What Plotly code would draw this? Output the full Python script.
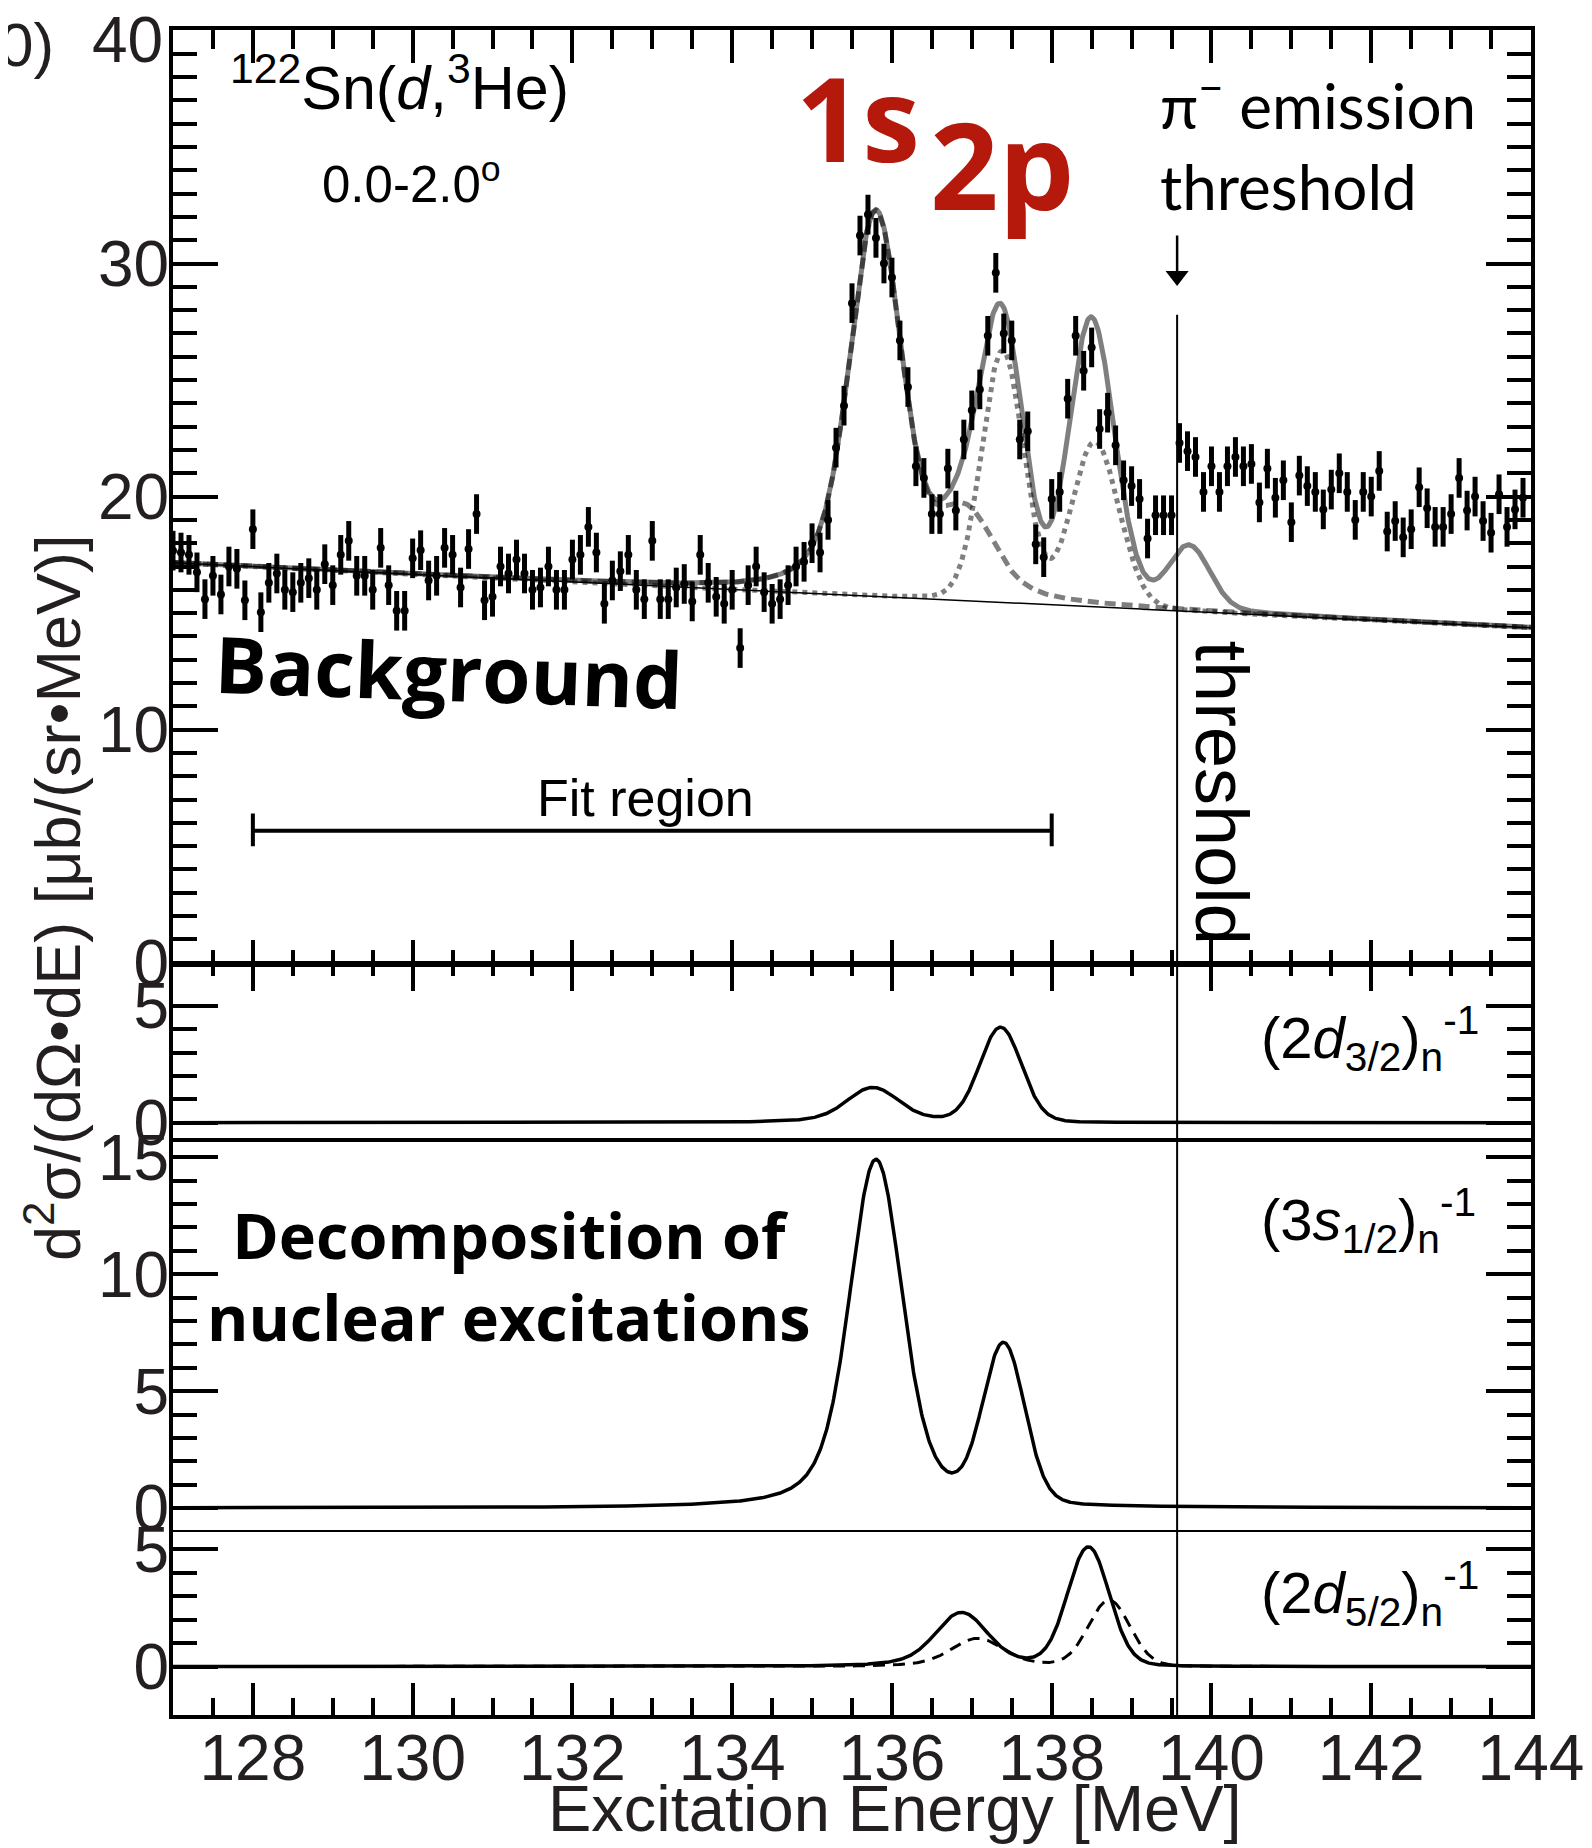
import numpy as np
import plotly.graph_objects as go

# ---------------- data ----------------
energy_start = 127.0          # MeV, first bin
bin_width = 0.1               # MeV
counts = [
    17.68, 17.6, 17.5, 16.75, 15.6, 16.6, 15.8, 17.0, 16.9, 15.55,
    18.6, 15.04, 16.3, 16.7, 16.0, 15.9, 16.3, 16.5, 16.0, 17.1,
    16.2, 17.5, 18.1, 16.6, 16.6, 16.0, 17.8, 16.2, 15.1, 15.1,
    17.35, 17.7, 16.4, 16.6, 17.8, 17.5, 16.1, 17.75, 19.25, 15.55,
    15.7, 17.0, 16.7, 17.3, 16.7, 16.0, 16.1, 17.0, 16.0, 16.0,
    17.3, 17.5, 18.7, 17.6, 15.4, 16.4, 16.8, 17.5, 16.0, 15.6,
    18.1, 15.6, 15.6, 16.1, 16.25, 15.5, 17.5, 16.3, 15.7, 15.4,
    16.0, 13.5, 16.2, 17.0, 15.9, 15.4, 15.6, 16.2, 17.0, 17.2,
    18.0, 17.6, 19.0, 22.1, 23.9, 28.3, 31.2, 32.1, 31.1, 30.0,
    29.4, 26.7, 24.7, 21.3, 20.8, 19.25, 19.25, 21.2, 19.4, 22.45,
    23.7, 24.6, 26.9, 29.6, 27.0, 26.7, 22.45, 22.8, 17.95, 17.4,
    19.9, 20.2, 24.2, 26.9, 25.4, 26.4, 22.9, 23.6, 22.2, 20.7,
    20.45, 19.9, 18.2, 19.2, 19.2, 19.2, 22.3, 21.95, 21.7, 20.2,
    21.3, 20.2, 21.3, 21.7, 21.3, 21.4, 19.75, 21.2, 19.95, 20.7,
    18.9, 20.9, 20.45, 20.2, 19.45, 20.3, 21.0, 20.2, 19.0, 20.2,
    20.0, 21.1, 18.5, 18.95, 18.25, 18.6, 20.4, 19.5, 18.7, 18.7,
    19.25, 20.8, 19.4, 20.0, 18.95, 18.45, 20.1, 18.7, 19.45, 19.95,
]
count_error = 0.85

# linear background: value at 127 MeV and slope per MeV
bg_at_127 = 17.16
bg_slope = -0.164

# fitted peak components (center MeV, peak height)
s12_centers, s12_heights, s12_kinds = [135.80, 137.40], [14.9, 6.75], ["1s", "2p"]
d32_centers, d32_heights, d32_kinds = [135.76, 137.36], [1.5, 4.05], ["1s", "2p"]
d52_centers, d52_heights, d52_kinds = [136.87, 138.46], [2.3, 5.05], ["1s", "2p"]
d52b_centers, d52b_heights, d52b_kinds = [137.07, 138.72], [1.2, 2.8], ["1s", "2p"]
other_centers, other_heights = [138.45, 139.72], [5.3, 2.7]

natural_width = {"1s": 0.34, "2p": 0.05}   # Lorentzian FWHM
resolution_sigma = 0.25                      # Gaussian sigma

threshold_energy = 139.57
fit_region = [128.0, 138.0]

x_range = [127, 144]

# ---------------- shapes ----------------
E = np.linspace(x_range[0], x_range[1], 1701)
tt = np.linspace(-5 * resolution_sigma, 5 * resolution_sigma, 401)
gk = np.exp(-tt ** 2 / (2 * resolution_sigma ** 2))


def voigt(c, gamma):
    hw = gamma / 2.0
    L = hw ** 2 / ((E[:, None] - c - tt[None, :]) ** 2 + hw ** 2)
    v = (L * gk[None, :]).sum(axis=1)
    pk = (hw ** 2 / (tt ** 2 + hw ** 2) * gk).sum()
    return v / pk


def comp(centers, heights, kinds, only=None):
    out = np.zeros_like(E)
    for c, h, k in zip(centers, heights, kinds):
        if only is None or k == only:
            out += h * voigt(c, natural_width[k])
    return out


p_d32 = comp(d32_centers, d32_heights, d32_kinds)
p_s12 = comp(s12_centers, s12_heights, s12_kinds)
p_d52 = comp(d52_centers, d52_heights, d52_kinds)
p_d52b = comp(d52b_centers, d52b_heights, d52b_kinds)

groups = [(d32_centers, d32_heights, d32_kinds), (s12_centers, s12_heights, s12_kinds),
          (d52_centers, d52_heights, d52_kinds), (d52b_centers, d52b_heights, d52b_kinds)]
sum_1s = sum(comp(*g, only="1s") for g in groups)
sum_2p = sum(comp(*g, only="2p") for g in groups)
sum_other = comp(other_centers, other_heights, ["2p", "2p"])

bg = bg_at_127 + bg_slope * (E - 127.0)
curve_1s = bg + sum_1s
curve_2p = bg + sum_2p
curve_tot = bg + sum_1s + sum_2p + sum_other

x_data = energy_start + bin_width * np.arange(len(counts))

# ---------------- layout geometry (page pixels) ----------------
ML, MT, PW, PH = 165, 22, 1358, 1685
X_LEFT, Y_TOP = ML + 8, MT + 8
Y_BOT = Y_TOP + PH


def pxx(X):
    return (X - X_LEFT) / PW


def pxy(Y):
    return (Y_BOT - Y) / PH


d1, d2, d3 = pxy(962.7), pxy(1140), pxy(1530)
yr1, yr2, yr3, yr4 = [0, 40.02], [-0.74, 6.84], [-0.94, 15.74], [-2.06, 5.82]

fig = go.Figure()
GRAY = "rgba(0,0,0,0.5)"

fig.add_trace(go.Scatter(x=E, y=curve_tot, mode="lines", line=dict(color=GRAY, width=5), xaxis="x", yaxis="y"))
fig.add_trace(go.Scatter(x=E, y=curve_1s, mode="lines", line=dict(color=GRAY, width=5, dash="11px,6px"), xaxis="x", yaxis="y"))
fig.add_trace(go.Scatter(x=E, y=curve_2p, mode="lines", line=dict(color=GRAY, width=5, dash="5px,5px"), xaxis="x", yaxis="y"))
fig.add_trace(go.Scatter(x=E, y=bg, mode="lines", line=dict(color="black", width=1.5), xaxis="x", yaxis="y"))
fig.add_trace(go.Scatter(x=x_data, y=counts, mode="markers",
                         marker=dict(color="black", size=8, symbol="circle"),
                         error_y=dict(type="constant", value=count_error, thickness=5, width=0, color="black"),
                         xaxis="x", yaxis="y"))

# fit region bar
fit_y, cap_lo, cap_hi = 5.66, 5.0, 6.4
fig.add_trace(go.Scatter(x=fit_region, y=[fit_y, fit_y], mode="lines", line=dict(color="black", width=4), xaxis="x", yaxis="y"))
for fx in fit_region:
    fig.add_trace(go.Scatter(x=[fx, fx], y=[cap_lo, cap_hi], mode="lines", line=dict(color="black", width=4), xaxis="x", yaxis="y"))

# threshold arrow (shaft + head)
arrow_top, arrow_head = 31.2, 29.46
fig.add_trace(go.Scatter(x=[threshold_energy, threshold_energy], y=[arrow_top, arrow_head], mode="lines",
                         line=dict(color="black", width=2.5), xaxis="x", yaxis="y"))
fig.add_trace(go.Scatter(x=[threshold_energy], y=[arrow_head], mode="markers",
                         marker=dict(symbol="triangle-down", size=20, color="black", line=dict(width=0)),
                         xaxis="x", yaxis="y"))

# decomposition panels
fig.add_trace(go.Scatter(x=E, y=p_d32, mode="lines", line=dict(color="black", width=3.5), xaxis="x2", yaxis="y2"))
fig.add_trace(go.Scatter(x=E, y=p_s12, mode="lines", line=dict(color="black", width=3.5), xaxis="x3", yaxis="y3"))
fig.add_trace(go.Scatter(x=E, y=p_d52b, mode="lines", line=dict(color="black", width=3, dash="12px,8px"), xaxis="x4", yaxis="y4"))
fig.add_trace(go.Scatter(x=E, y=p_d52, mode="lines", line=dict(color="black", width=3.5), xaxis="x4", yaxis="y4"))
fig.add_trace(go.Scatter(x=[], y=[], xaxis="x5", yaxis="y"))

TICKF = dict(family="Liberation Sans, Arial, sans-serif", size=64, color="#231f20")


def minor_x(length):
    return dict(tickmode="linear", tick0=0, dtick=0.5, ticks="inside", ticklen=length, tickwidth=3.5, tickcolor="black")


def xax(**kw):
    base = dict(range=x_range, domain=[0, 1], tickmode="linear", tick0=0, dtick=2,
                ticks="inside", tickwidth=3.5, tickcolor="black", automargin=False,
                showgrid=False, zeroline=False, showticklabels=False, showline=True, linecolor="black")
    base.update(kw)
    return base


def yax(dom, rng, vals, texts, minors, **kw):
    base = dict(domain=dom, range=rng, tickmode="array", tickvals=vals, ticktext=texts,
                ticks="inside", ticklen=45, tickwidth=3.5, tickcolor="black", automargin=False,
                minor=dict(tickmode="array", tickvals=minors, ticks="inside", ticklen=24, tickwidth=3.5, tickcolor="black"),
                showgrid=False, zeroline=False, showline=True, linewidth=4, linecolor="black",
                mirror="ticks", tickfont=TICKF, ticklabelstandoff=-13, ticklabeloverflow="allow")
    base.update(kw)
    return base


layout = dict(
    width=ML + PW + 61, height=MT + PH + 133, showlegend=False,
    paper_bgcolor="white", plot_bgcolor="rgba(0,0,0,0)",
    margin=dict(l=ML, r=61, t=MT, b=133, autoexpand=False),
    xaxis=xax(anchor="y", side="bottom", ticklen=23, linewidth=4, minor=minor_x(13)),
    xaxis5=xax(anchor="y", overlaying="x", side="top", ticklen=33, linewidth=4, minor=minor_x(19)),
    xaxis2=xax(anchor="y2", side="top", ticklen=29, linewidth=1.5, mirror=True, minor=minor_x(14)),
    xaxis3=xax(anchor="y3", ticks="", linewidth=1.5, mirror=True, minor=dict(ticks="")),
    xaxis4=xax(anchor="y4", side="bottom", ticklen=32, linewidth=4, showticklabels=True, tickfont=TICKF,
               ticklabelstandoff=-16, ticklabeloverflow="allow", minor=minor_x(17)),
    yaxis=yax([d1, 1], yr1, list(range(0, 41, 5)), ["0", "", "10", "", "20", "", "30", "", ""],
              list(range(0, 41)), anchor="x"),
    yaxis2=yax([d2, d1], yr2, [0, 5], ["0", "5"], list(range(1, 6)), anchor="x2"),
    yaxis3=yax([d3, d2], yr3, [0, 5, 10, 15], ["0", "5", "10", "15"], list(range(1, 16)), anchor="x3"),
    yaxis4=yax([0, d3], yr4, [0, 5], ["0", "5"], list(range(1, 6)), anchor="x4"),
)
fig.update_layout(**layout)

# threshold vertical line through all panels
thr_top = 27.8
fig.add_shape(type="line", xref="x", yref="paper", x0=threshold_energy, x1=threshold_energy,
              y0=0, y1=d1 + (thr_top - yr1[0]) / (yr1[1] - yr1[0]) * (1 - d1),
              line=dict(color="black", width=2))

# left fragment box (neighbouring figure)
fig.add_shape(type="rect", xref="paper", yref="paper", x0=pxx(-40), x1=pxx(6), y0=pxy(1143), y1=pxy(819),
              line=dict(color="#333333", width=2))

HEL = "Liberation Sans, Arial, sans-serif"
BOLD = "Open Sans, Noto Sans, sans-serif"
GILL = "Lato, Open Sans, sans-serif"
RED = "#b5190c"

ann = [
    dict(x=pxx(165), y=pxy(40), xref="paper", yref="paper", xanchor="right", yanchor="middle", text="40",
         font=TICKF),
    dict(x=129.84, y=37.75, xref="x", yref="y", text="<sup>122</sup>Sn(<i>d</i>,<sup>3</sup>He)",
         font=dict(family=HEL, size=61, color="black")),
    dict(x=129.99, y=33.55, xref="x", yref="y", text="0.0-2.0<sup>o</sup>",
         font=dict(family=HEL, size=51, color="black")),
    dict(x=135.58, y=36.3, xref="x", yref="y", text="<b>1s</b>", font=dict(family=BOLD, size=116, color=RED)),
    dict(x=137.38, y=34.3, xref="x", yref="y", text="<b>2p</b>", font=dict(family=BOLD, size=120, color=RED)),
    dict(x=139.33, y=35.25, xref="x", yref="y", xanchor="left", align="left",
         text="π<sup>−</sup> emission<br>threshold", font=dict(family=GILL, size=62, color="black")),
    dict(x=140.12, y=7.3, xref="x", yref="y", text="threshold", textangle=90,
         font=dict(family=HEL, size=74, color="black")),
    dict(x=130.45, y=12.5, xref="x", yref="y", text="<b>Background</b>", textangle=2,
         font=dict(family=BOLD, size=78, color="black")),
    dict(x=132.92, y=7.07, xref="x", yref="y", text="Fit region", font=dict(family=HEL, size=52, color="black")),
    dict(x=131.21, y=9.95, xref="x3", yref="y3", text="<b>Decomposition of<br>nuclear excitations</b>",
         font=dict(family=BOLD, size=63, color="black")),
    dict(x=140.6, y=3.6, xref="x2", yref="y2", xanchor="left",
         text="(2<i>d</i><sub>3/2</sub>)<sub>n</sub><sup>-1</sup>", font=dict(family=HEL, size=58, color="black")),
    dict(x=140.6, y=12.3, xref="x3", yref="y3", xanchor="left",
         text="(3<i>s</i><sub>1/2</sub>)<sub>n</sub><sup>-1</sup>", font=dict(family=HEL, size=58, color="black")),
    dict(x=140.6, y=3.1, xref="x4", yref="y4", xanchor="left",
         text="(2<i>d</i><sub>5/2</sub>)<sub>n</sub><sup>-1</sup>", font=dict(family=HEL, size=58, color="black")),
    dict(x=pxx(895), y=pxy(1808), xref="paper", yref="paper", xanchor="center", yanchor="middle",
         text="Excitation Energy [MeV]", font=dict(family=HEL, size=65, color="#231f20")),
    dict(x=pxx(53), y=pxy(898), xref="paper", yref="paper", xanchor="center", yanchor="middle",
         text="d<sup>2</sup>σ/(dΩ•dE) [μb/(sr•MeV)]",
         textangle=-90, font=dict(family=HEL, size=63, color="#231f20")),
    dict(x=pxx(56), y=pxy(45), xref="paper", yref="paper", xanchor="right", yanchor="middle", text="0)",
         font=dict(family=HEL, size=62, color="#231f20")),
]
for a in ann:
    a.setdefault("showarrow", False)
    fig.add_annotation(**a)

fig.write_html("out.html")
